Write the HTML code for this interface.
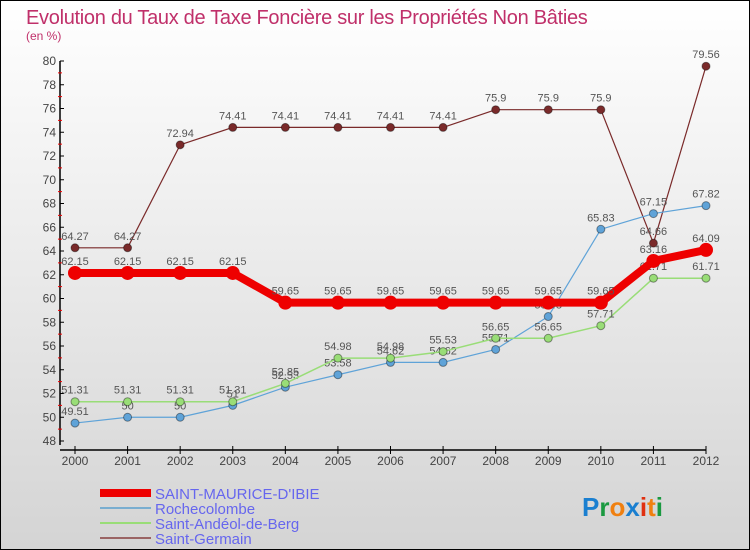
<!DOCTYPE html>
<html><head><meta charset="utf-8"><style>
body{margin:0;}
#wrap{width:750px;height:550px;position:relative;overflow:hidden;background:linear-gradient(#fff,#d4d4d4);font-family:"Liberation Sans",sans-serif;}
#frame{position:absolute;left:0;top:0;width:748px;height:548px;border:1px solid #000;}
</style></head><body>
<div id="wrap">
<div id="frame"></div>
<svg id="chart" width="750" height="550" style="position:absolute;left:0;top:0">
<text x="26" y="24" font-size="20" fill="#c0306a" font-weight="normal" letter-spacing="-0.3">Evolution du Taux de Taxe Foncière sur les Propriétés Non Bâties</text>
<text x="26" y="40" font-size="12" fill="#c0306a">(en %)</text>
</svg>
</div>
<script>
const years=["2000","2001","2002","2003","2004","2005","2006","2007","2008","2009","2010","2011","2012"];
const yTicks=[48,50,52,54,56,58,60,62,64,66,68,70,72,74,76,78,80];
const smi=[62.15,62.15,62.15,62.15,59.65,59.65,59.65,59.65,59.65,59.65,59.65,63.16,64.09];
const roche=[49.51,50,50,51,52.53,53.58,54.62,54.62,55.71,58.48,65.83,67.15,67.82];
const sab=[51.31,51.31,51.31,51.31,52.85,54.98,54.98,55.53,56.65,56.65,57.71,61.71,61.71];
const sg=[64.27,64.27,72.94,74.41,74.41,74.41,74.41,74.41,75.9,75.9,75.9,64.66,79.56];
const seriesNames=["SAINT-MAURICE-D'IBIE","Rochecolombe","Saint-Andéol-de-Berg","Saint-Germain"];
const NS="http://www.w3.org/2000/svg";
const svg=document.getElementById('chart');
const X=i=>75+i*(706-75)/(years.length-1);
const Y=v=>441-(v-48)*(441-61)/(80-48);
function mk(t,a){const e=document.createElementNS(NS,t);for(const k in a)e.setAttribute(k,a[k]);svg.appendChild(e);return e;}
let e=mk('line',{x1:60,y1:61,x2:60,y2:445,stroke:'#000','stroke-width':1.5});


e=mk('line',{x1:60,y1:450,x2:706,y2:450,stroke:'#000','stroke-width':1.5});


yTicks.forEach(v=>{
 const y=Y(v);
 mk('line',{x1:60,y1:y,x2:64,y2:y,stroke:'#000'});
 if(v<80) mk('line',{x1:58,y1:Y(v+1),x2:62,y2:Y(v+1),stroke:'#e00'});
 const t=mk('text',{x:56,y:y+4,'font-size':12,'text-anchor':'end',fill:'#444'});
 t.textContent=v;
 
 
});
years.forEach((yr,i)=>{
 mk('line',{x1:X(i),y1:446,x2:X(i),y2:454,stroke:'#000'});
 const t=mk('text',{x:X(i),y:465,'font-size':12,'text-anchor':'middle',fill:'#444'});
 t.textContent=yr;
 
 
});
function series(data,color,lw,r,name){
 const p=mk('polyline',{points:data.map((v,i)=>X(i)+','+Y(v)).join(' '),fill:'none',stroke:color,'stroke-width':lw,'stroke-linejoin':'round'});
 
 
 data.forEach((v,i)=>{
  const c=mk('circle',{cx:X(i),cy:Y(v),r:r,fill:color,stroke:lw>3?'none':'rgba(0,0,0,0.4)'});
  
  
  const t=mk('text',{x:X(i),y:Y(v)-8,'font-size':11,'text-anchor':'middle',fill:'#555'});
  t.textContent=String(v);
  
  
 });
}
series(sg,'#7a2a2a',1.2,4,'saint-germain');
series(roche,'#5fa3d8',1.2,4,'rochecolombe');
series(sab,'#99dd77',1.5,4,'saint-andeol');
series(smi,'#ee0000',8,7,'saint-maurice');
const lc=['#ee0000','#7aaed0','#99dd77','#9a6464'],lw=[8,2,2,2];
seriesNames.forEach((n,i)=>{
 const y=493+i*15;
 mk('line',{x1:100,y1:y,x2:151,y2:y,stroke:lc[i],'stroke-width':lw[i]});
 const t=mk('text',{x:155,y:y+6,'font-size':15,fill:'#6666ee'});
 t.textContent=n;
 
 
});
const lg=mk('text',{x:582,y:516,'font-size':26,'font-weight':'bold'});


[['P','#1a7fd0'],['r','#1a9940'],['o','#f08010'],['x','#1a7fd0'],['i','#e03010'],['t','#f08010'],['i','#1a9940']].forEach(([c,f])=>{const s=document.createElementNS(NS,'tspan');s.setAttribute('fill',f);s.textContent=c;lg.appendChild(s);});
</script>
</body></html>
